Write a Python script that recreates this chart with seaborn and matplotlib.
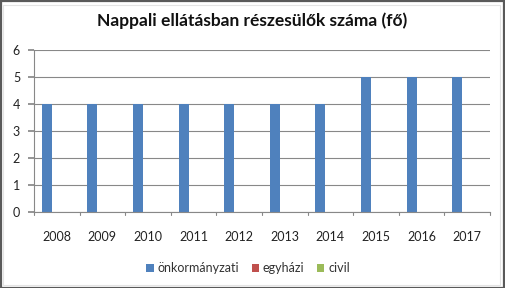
import matplotlib
matplotlib.use("Agg")
import matplotlib.pyplot as plt
import seaborn as sns
import pandas as pd
from matplotlib.patches import Rectangle, Patch

years = ["2008", "2009", "2010", "2011", "2012", "2013", "2014", "2015", "2016", "2017"]
onkormanyzati = [4, 4, 4, 4, 4, 4, 4, 5, 5, 5]
egyhazi = [0, 0, 0, 0, 0, 0, 0, 0, 0, 0]
civil = [0, 0, 0, 0, 0, 0, 0, 0, 0, 0]
series_names = ["önkormányzati", "egyházi", "civil"]
colors = ["#4f81bd", "#c0504d", "#9bbb59"]
title = "Nappali ellátásban részesülők száma (fő)"

rows = []
for name, vals in zip(series_names, [onkormanyzati, egyhazi, civil]):
    for y, v in zip(years, vals):
        rows.append({"year": y, "series": name, "value": v})
df = pd.DataFrame(rows)

sns.set_theme(style="white")
plt.rcParams["font.family"] = ["Lato", "DejaVu Sans"]

fig = plt.figure(figsize=(5.05, 2.88), dpi=100)
ax = fig.add_axes([34/505, 1-212/288, (490-34)/505, (212-50)/288])

sns.barplot(data=df, x="year", y="value", hue="series", palette=colors,
            width=0.66, ax=ax, legend=False, saturation=1, linewidth=0)

ax.set_ylim(0, 6)
ax.set_xlim(-0.5, 9.5)
ax.set_yticks(range(0, 7))
ax.yaxis.grid(True, color="#888888", linewidth=0.8)
ax.set_axisbelow(True)
for s in ["top", "right"]:
    ax.spines[s].set_visible(False)
ax.spines["left"].set_color("#888888")
ax.spines["bottom"].set_color("#888888")
ax.spines["left"].set_linewidth(0.8)
ax.spines["bottom"].set_linewidth(0.8)
ax.set_xlabel("")
ax.set_ylabel("")
ax.tick_params(axis="y", left=True, length=4, color="#888888", labelsize=9, pad=6, labelcolor="#222222")
ax.tick_params(axis="x", bottom=False, labelsize=9, pad=8, labelcolor="#222222")
# Between-category ticks
for i in range(11):
    ax.plot([i - 0.5, i - 0.5], [0, -0.1], color="#888888", lw=0.8, clip_on=False,
            transform=ax.transData)

fig.text(0.5, 1-21/288, title, ha="center", va="center", fontsize=12.5, fontweight="bold", color="#111111")

handles = [Patch(facecolor=c, edgecolor="none") for c in colors]
fig.legend(handles, series_names, loc="center", bbox_to_anchor=(248/505, 1-268/288),
           ncol=3, frameon=False, fontsize=9, handlelength=0.6, handleheight=0.6,
           handletextpad=0.3, columnspacing=1.0, labelcolor="#333333")

# outer border
fig.patches.append(Rectangle((0.5/505, 0.5/288), 503.5/505, 286.5/288, transform=fig.transFigure,
                             fill=False, edgecolor="#5a5a5a", linewidth=1.6))
fig.patches.append(Rectangle((3/505, 3/288), 497/505, 280/288, transform=fig.transFigure,
                             fill=False, edgecolor="#e4e4e4", linewidth=0.8))

fig.savefig("out.png", dpi=100)
